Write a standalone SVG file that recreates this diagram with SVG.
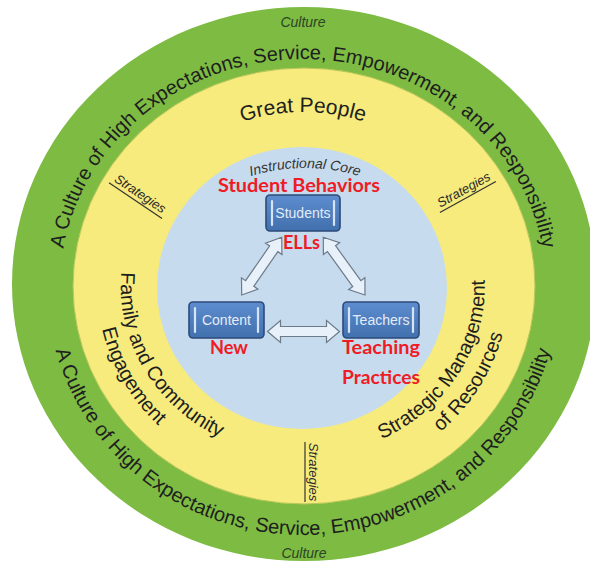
<svg xmlns="http://www.w3.org/2000/svg" width="590" height="565" viewBox="0 0 590 565">
<defs>
<style>
.arc{font-family:"Liberation Sans",Arial,sans-serif;font-size:20px;fill:#1e1e1e}
.mid{font-family:"Liberation Sans",Arial,sans-serif;font-size:20px;fill:#1e1e1e}
.cult{font-family:"Liberation Sans",Arial,sans-serif;font-size:14px;font-style:italic;fill:#2c4424}
.strat{font-family:"Liberation Sans",Arial,sans-serif;font-size:13px;font-style:italic;fill:#2a2a2a}
.uline{stroke:#333;stroke-width:1.2}
.red{font-family:Lato,"Open Sans",sans-serif;font-weight:bold;font-size:19px;fill:#ee1c25}
.boxt{font-family:"Liberation Sans",Arial,sans-serif;font-size:14px;fill:#e4ecf7}
.box{fill:url(#bg);stroke:#2c4a78;stroke-width:1.6}
.hl{stroke:#d6e4f6;stroke-width:2.2;stroke-linecap:round}
.arrow{fill:#e8f0f9;stroke:#6c7b8a;stroke-width:1.2;stroke-linejoin:miter}
</style>
<linearGradient id="bg" x1="0" y1="0" x2="0" y2="1">
<stop offset="0" stop-color="#5d8dcf"/>
<stop offset="1" stop-color="#4270ae"/>
</linearGradient>
<path id="pTop" d="M 60 286 A 243 227 0 0 1 546 286"/>
<path id="pBot" d="M 47 286 A 256 249 0 0 0 559 286"/>
<path id="pGP" d="M 119 286 A 184 174 0 0 1 487 286"/>
<path id="pIC" d="M 205 197.4 A 185 185 0 0 1 405 197.4"/>
<path id="pL1" d="M 190.9 152 A 182 170 0 0 0 359.2 447.7"/>
<path id="pL2" d="M 176.2 131.6 A 206 196 0 0 0 366.7 472.4"/>
<path id="pR1" d="M 240.8 445.7 A 182 170 0 0 0 420 155.8"/>
<path id="pR2" d="M 232.5 470.2 A 206 196 0 0 0 435.4 135.9"/>
</defs>

<g id="rings">
<ellipse cx="304" cy="284" rx="292" ry="277" fill="#7dbb43"/>
<ellipse cx="304" cy="286" rx="231" ry="218" fill="#f6eb7c" stroke="#b8c65a" stroke-width="1"/>
<ellipse cx="302" cy="288" rx="145" ry="141" fill="#c7dbee"/>
</g>

<g id="culture-ring">
<text class="cult" x="303" y="27" text-anchor="middle">Culture</text>
<text class="cult" x="304" y="558" text-anchor="middle">Culture</text>
<text class="arc"><textPath href="#pTop" startOffset="50%" text-anchor="middle">A Culture of High Expectations, Service, Empowerment, and Responsibility</textPath></text>
<text class="arc"><textPath href="#pBot" startOffset="50%" text-anchor="middle">A Culture of High Expectations, Service, Empowerment, and Responsibility</textPath></text>
</g>

<g id="strategies-ring">
<text class="mid" style="font-size:21px"><textPath href="#pGP" startOffset="50%" text-anchor="middle">Great People</textPath></text>
<text class="mid"><textPath href="#pL1" startOffset="50%" text-anchor="middle">Family and Community</textPath></text>
<text class="mid"><textPath href="#pL2" startOffset="50%" text-anchor="middle">Engagement</textPath></text>
<text class="mid"><textPath href="#pR1" startOffset="50%" text-anchor="middle">Strategic Management</textPath></text>
<text class="mid"><textPath href="#pR2" startOffset="50%" text-anchor="middle">of Resources</textPath></text>
<g transform="translate(140,194) rotate(34)">
<text class="strat" x="0" y="4" text-anchor="middle">Strategies</text>
<line class="uline" x1="-32" y1="8" x2="32" y2="8"/>
</g>
<g transform="translate(464,190) rotate(-29)">
<text class="strat" x="0" y="4" text-anchor="middle">Strategies</text>
<line class="uline" x1="-32" y1="8" x2="32" y2="8"/>
</g>
<g transform="translate(313,472) rotate(90)">
<text class="strat" x="0" y="4" text-anchor="middle">Strategies</text>
<line class="uline" x1="-30" y1="8" x2="30" y2="8"/>
</g>
</g>

<g id="core-label">
<text class="strat" style="font-size:14px;fill:#333"><textPath href="#pIC" startOffset="50%" text-anchor="middle">Instructional Core</textPath></text>
</g>

<g id="connectors">
<polygon class="arrow" points="281.7,237.3 265.5,243.11 269.61,245.96 245.57,280.64 241.46,277.79 241.7,295 257.9,289.19 253.79,286.34 277.83,251.66 281.94,254.51"/>
<polygon class="arrow" points="323.3,237.3 323.4,254.51 327.45,251.58 352.75,286.58 348.7,289.51 365,295 364.91,277.79 360.85,280.72 335.55,245.72 339.61,242.79"/>
<polygon class="arrow" points="267.5,331.5 280.5,342.5 280.5,336.5 326.5,336.5 326.5,342.5 339.5,331.5 326.5,320.5 326.5,326.5 280.5,326.5 280.5,320.5"/>
</g>

<g id="students">
<rect class="box" x="266" y="195" width="74" height="36" rx="4"/>
<line class="hl" x1="272" y1="201" x2="272" y2="225"/>
<line class="hl" x1="334" y1="201" x2="334" y2="225"/>
<text class="boxt" x="303" y="218" text-anchor="middle">Students</text>
</g>
<g id="content">
<rect class="box" x="189" y="302" width="75" height="36" rx="4"/>
<line class="hl" x1="195" y1="308" x2="195" y2="332"/>
<line class="hl" x1="258" y1="308" x2="258" y2="332"/>
<text class="boxt" x="226.5" y="325" text-anchor="middle">Content</text>
</g>
<g id="teachers">
<rect class="box" x="343" y="302" width="76" height="36" rx="4"/>
<line class="hl" x1="349" y1="308" x2="349" y2="332"/>
<line class="hl" x1="413" y1="308" x2="413" y2="332"/>
<text class="boxt" x="381" y="325" text-anchor="middle">Teachers</text>
</g>

<g id="annotations">
<text class="red" x="218" y="192" textLength="162" lengthAdjust="spacingAndGlyphs">Student Behaviors</text>
<text class="red" x="283" y="249" textLength="37" lengthAdjust="spacingAndGlyphs">ELLs</text>
<text class="red" x="210" y="354" textLength="38" lengthAdjust="spacingAndGlyphs">New</text>
<text class="red" x="342" y="354" textLength="78" lengthAdjust="spacingAndGlyphs">Teaching</text>
<text class="red" x="342" y="384" textLength="78" lengthAdjust="spacingAndGlyphs">Practices</text>
</g>
</svg>
